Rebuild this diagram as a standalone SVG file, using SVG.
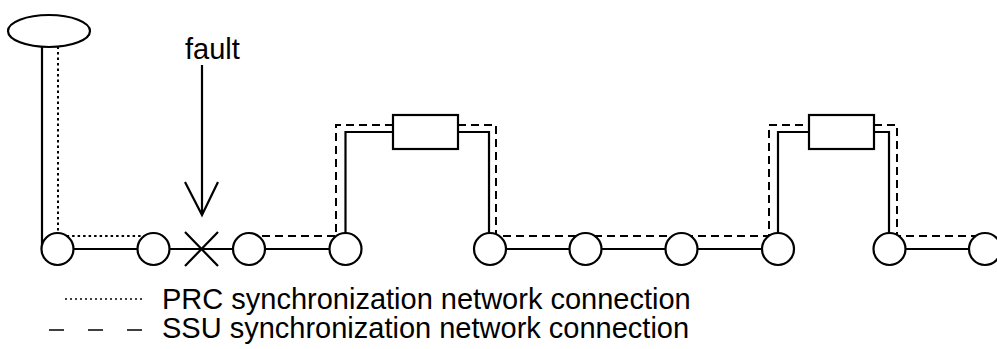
<svg xmlns="http://www.w3.org/2000/svg" width="997" height="349" viewBox="0 0 997 349">
<style>
.s{fill:none;stroke:#000;stroke-width:2.2}
.d{fill:none;stroke:#000;stroke-width:2;stroke-dasharray:8 5}
.p{fill:none;stroke:#000;stroke-width:2;stroke-dasharray:2.5 3}
.n{fill:#fff;stroke:#000;stroke-width:2.2}
.t{font-family:"Liberation Sans",Arial,sans-serif;font-size:29px;fill:#000}
</style>
<rect width="997" height="349" fill="#fff"/>
<g id="connectors">
<path class="p" d="M58,46.6 V236 H153"/>
<path class="d" d="M249,236 H336 V125 H393 M458,125 H496 V236 H769 V125 H809 M874,125 H897 V236 H985"/>
<path class="s" d="M42,47 V249 H345.5 V132 H393 M458,132 H489 V249 H778 V132 H809 M874,132 H889 V249 H997"/>
<path class="s" d="M202,65 V215 M185,182 L202,215 L218,182"/>
</g>
<g id="prc"><ellipse class="n" cx="49" cy="31" rx="41" ry="16"/></g>
<g id="fault-cross"><path class="s" d="M185,232 L218,266 M218,232 L185,266"/></g>
<g id="fault-label"><text class="t" x="185" y="59">fault</text></g>
<g id="n1"><circle class="n" cx="57.5" cy="249" r="16"/></g>
<g id="n2"><circle class="n" cx="153.5" cy="249" r="16"/></g>
<g id="n3"><circle class="n" cx="249" cy="249" r="16"/></g>
<g id="n4"><circle class="n" cx="345.5" cy="249" r="16"/></g>
<g id="ssu1"><rect class="n" x="393" y="115" width="65" height="34"/></g>
<g id="n5"><circle class="n" cx="490" cy="249" r="16"/></g>
<g id="n6"><circle class="n" cx="585.5" cy="249" r="16"/></g>
<g id="n7"><circle class="n" cx="681.5" cy="249" r="16"/></g>
<g id="n8"><circle class="n" cx="778" cy="249" r="16"/></g>
<g id="ssu2"><rect class="n" x="809" y="115" width="65" height="34"/></g>
<g id="n9"><circle class="n" cx="889.5" cy="249" r="16"/></g>
<g id="n10"><circle class="n" cx="985" cy="249" r="16"/></g>
<g id="legend">
<line x1="65" y1="299" x2="143" y2="299" stroke="#000" stroke-width="1.3" stroke-dasharray="2 3"/>
<line x1="49" y1="330" x2="143" y2="330" stroke="#000" stroke-width="1.3" stroke-dasharray="15 24"/>
<text class="t" x="162" y="309">PRC synchronization network connection</text>
<text class="t" x="162" y="338">SSU synchronization network connection</text>
</g>
</svg>
